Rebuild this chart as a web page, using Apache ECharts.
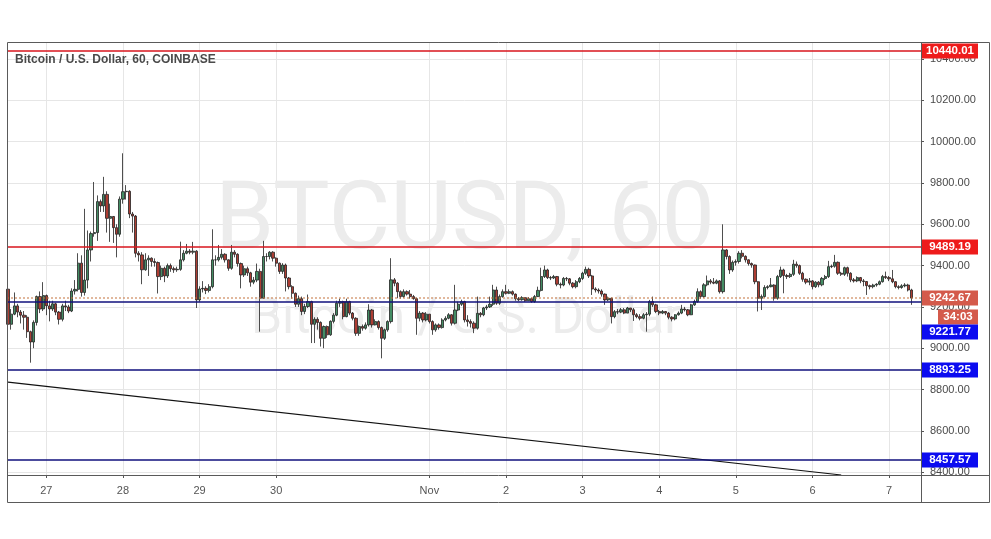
<!DOCTYPE html>
<html><head><meta charset="utf-8">
<script src="https://cdn.jsdelivr.net/npm/echarts@6/dist/echarts.min.js"></script>
<style>html,body{margin:0;padding:0;background:#fff}#c{width:991px;height:539px}</style>
</head><body><div id="c"></div>
<script>
// ---------- data ----------
const startTime = Date.UTC(2019, 9, 26, 12);   // first hourly bar (UTC)
const firstOpen = 9286;
const closes = [
 9116,9165,9205,9175,9160,9150,9080,9030,9125,9250,9190,9255,
 9205,9190,9215,9175,9140,9205,9200,9180,9277,9285,9412,9270,9330,9476,9555,9560,9710,9689,9745,9629,9638,9584,9552,9722,
 9758,9760,9650,9640,9460,9452,9380,9428,9436,9420,9415,9347,9387,9350,9400,9385,9380,9382,9428,9460,9470,9465,9470,9234,
 9287,9290,9280,9298,9428,9428,9440,9455,9428,9387,9465,9455,9410,9355,9385,9365,9320,9330,9372,9242,9444,9444,9465,9436,
 9412,9372,9403,9340,9298,9266,9213,9240,9178,9202,9226,9116,9140,9125,9048,9105,9065,9130,9160,9218,9226,9153,9226,9170,
 9145,9072,9105,9097,9113,9185,9113,9129,9100,9048,9089,9129,9331,9315,9274,9250,9274,9262,9250,9240,9145,9170,9137,9165,
 9129,9089,9113,9100,9137,9145,9162,9121,9185,9213,9226,9137,9129,9121,9097,9169,9162,9195,9200,9213,9282,9218,9250,9274,
 9266,9274,9262,9240,9235,9245,9230,9240,9226,9250,9280,9347,9379,9342,9340,9347,9310,9306,9338,9336,9315,9298,9322,9338,
 9363,9382,9350,9287,9282,9277,9262,9234,9242,9153,9177,9175,9186,9170,9195,9186,9162,9153,9145,9162,9165,9226,9210,9178,
 9170,9178,9170,9150,9142,9162,9170,9190,9186,9162,9210,9226,9274,9250,9307,9326,9320,9315,9326,9274,9476,9444,9379,9416,
 9420,9460,9445,9428,9410,9403,9322,9242,9250,9294,9298,9306,9242,9347,9379,9352,9347,9358,9407,9400,9363,9334,9320,9326,
 9298,9320,9307,9338,9347,9395,9397,9416,9363,9358,9390,9363,9331,9326,9342,9326,9323,9303,9298,9306,9310,9322,9347,9342,
 9336,9322,9298,9294,9302,9306,9282,9242.67
];
const highs = [
 9420,9190,9270,9215,9185,9180,9160,9085,9135,9255,9275,9320,
 9260,9230,9230,9220,9180,9215,9230,9210,9290,9330,9460,9450,9675,9570,9565,9805,9740,9720,9830,9760,9700,9640,9600,9735,
 9944,9790,9765,9660,9645,9470,9465,9460,9450,9440,9435,9420,9400,9395,9410,9410,9395,9395,9516,9475,9505,9480,9515,9475,
 9300,9325,9300,9310,9576,9450,9500,9480,9460,9430,9500,9475,9460,9415,9400,9395,9370,9345,9410,9385,9520,9460,9470,9470,
 9440,9415,9412,9410,9345,9305,9270,9255,9250,9215,9260,9230,9150,9150,9130,9110,9110,9135,9170,9230,9240,9230,9240,9230,
 9175,9150,9110,9115,9125,9213,9190,9140,9135,9105,9095,9135,9436,9340,9320,9280,9285,9280,9282,9258,9245,9180,9175,9175,
 9165,9135,9120,9120,9145,9155,9170,9165,9307,9225,9235,9230,9160,9140,9130,9250,9175,9200,9210,9250,9307,9298,9260,9285,
 9307,9285,9280,9265,9248,9252,9248,9248,9245,9258,9298,9390,9400,9385,9350,9355,9350,9318,9345,9345,9340,9320,9330,9345,
 9370,9395,9390,9355,9295,9290,9285,9265,9250,9245,9185,9190,9195,9195,9200,9195,9195,9170,9165,9170,9175,9234,9250,9215,
 9185,9185,9180,9175,9155,9165,9178,9210,9200,9190,9215,9235,9290,9280,9315,9352,9335,9340,9333,9330,9600,9480,9450,9425,
 9430,9470,9475,9450,9430,9415,9405,9325,9260,9305,9305,9340,9310,9355,9395,9385,9360,9365,9428,9420,9405,9370,9338,9340,
 9330,9325,9325,9345,9355,9423,9405,9452,9420,9370,9395,9395,9368,9340,9348,9345,9335,9325,9308,9312,9315,9328,9355,9371,
 9350,9379,9325,9305,9310,9315,9312,9288
];
const lows = [
 9075,9090,9160,9150,9120,9090,9050,8930,9000,9110,9170,9180,
 9160,9130,9180,9160,9115,9130,9180,9170,9175,9260,9275,9250,9255,9290,9420,9540,9520,9660,9660,9560,9515,9510,9440,9540,
 9700,9720,9630,9560,9440,9420,9310,9375,9350,9395,9395,9265,9330,9320,9340,9370,9365,9370,9375,9420,9455,9455,9455,9195,
 9225,9270,9262,9270,9290,9400,9420,9430,9415,9375,9380,9440,9395,9290,9345,9350,9298,9310,9320,9080,9240,9420,9430,9420,
 9395,9360,9360,9275,9285,9240,9200,9200,9160,9165,9195,9025,9025,9090,9008,9000,9050,9060,9120,9155,9200,9140,9150,9160,
 9135,9060,9060,9085,9090,9105,9100,9110,9090,8951,9040,9080,9120,9300,9242,9240,9245,9255,9240,9235,9065,9130,9125,9130,
 9120,9065,9080,9090,9095,9130,9140,9110,9115,9180,9205,9125,9105,9100,9073,9090,9150,9155,9185,9195,9205,9210,9210,9245,
 9260,9262,9255,9230,9228,9230,9225,9230,9220,9220,9248,9275,9340,9335,9330,9335,9300,9290,9300,9325,9305,9290,9290,9315,
 9330,9355,9340,9258,9270,9265,9250,9210,9228,9120,9145,9165,9170,9165,9170,9175,9132,9145,9135,9140,9080,9155,9200,9170,
 9160,9165,9160,9140,9130,9135,9158,9165,9178,9155,9160,9205,9220,9240,9245,9300,9310,9310,9310,9265,9265,9430,9360,9370,
 9400,9410,9435,9415,9400,9390,9310,9178,9185,9245,9285,9295,9230,9235,9340,9266,9335,9340,9350,9390,9355,9322,9310,9305,
 9285,9292,9295,9300,9330,9340,9388,9390,9355,9350,9350,9347,9320,9318,9320,9315,9300,9258,9285,9290,9298,9305,9318,9335,
 9325,9315,9290,9285,9288,9295,9275,9210
];
const xTickDates  = ['2019-10-27','2019-10-28','2019-10-29','2019-10-30','2019-11-01','2019-11-02','2019-11-03','2019-11-04','2019-11-05','2019-11-06','2019-11-07'];
const xTickLabels = ['27','28','29','30','Nov','2','3','4','5','6','7'];
const yTicks = [8400,8600,8800,9000,9200,9400,9600,9800,10000,10200,10400];
const redLevels  = [10440.01, 9489.19];
const blueLevels = [9221.77, 8893.25, 8457.57];
const lastPrice = 9242.67;
const countdown = '34:03';
const trendLine = [[0, 8836], [261, 8386]];   // [bar index, price]
const titleText = 'Bitcoin / U.S. Dollar, 60, COINBASE';
const wmMain = 'BTCUSD, 60';
const wmSub = 'Bitcoin / U.S. Dollar';
const emptySlotsRight = 3;

// ---------- build ----------
const nSlots = closes.length + emptySlotsRight;
const cats = [];
for (let i = 0; i < nSlots; i++) cats.push(new Date(startTime + i * 3600000).toISOString().slice(0, 16));
const tickIdx = {};
cats.forEach((c, i) => { const k = xTickDates.indexOf(c.slice(0, 10)); if (k >= 0 && c.slice(11) === '00:00') tickIdx[i] = xTickLabels[k]; });
const showTick = (i) => tickIdx[i] !== undefined;

const ohlc = closes.map((c, i) => {
  const o = i === 0 ? firstOpen : closes[i - 1];
  return [o, c, Math.min(lows[i], o, c), Math.max(highs[i], o, c)];
});

const chart = echarts.init(document.getElementById('c'), null, {renderer: 'canvas'});
const font = 'Liberation Sans, Arial, sans-serif';

chart.setOption({
  animation: false,
  backgroundColor: '#ffffff',
  grid: {left: 8, right: 70, top: 42, bottom: 64, containLabel: false},
  xAxis: {
    type: 'category', data: cats, boundaryGap: false,
    axisLine: {show: false},
    axisTick: {show: true, interval: showTick, length: 3, lineStyle: {color: '#555'}},
    axisLabel: {interval: showTick, formatter: (v, i) => tickIdx[i] || '', color: '#555', fontSize: 11, fontFamily: font, margin: 10},
    splitLine: {show: true, interval: showTick, lineStyle: {color: '#e6e6e6', width: 1}}
  },
  yAxis: {
    type: 'value', position: 'right', min: 8386, max: 10483, scale: true,
    axisLine: {show: false},
    axisTick: {show: true, length: 3, customValues: yTicks, lineStyle: {color: '#555'}},
    axisLabel: {customValues: yTicks, formatter: v => v.toFixed(2), color: '#4a4a4a', fontSize: 11, fontFamily: font, margin: 9},
    splitLine: {show: true, lineStyle: {color: '#e6e6e6', width: 1}}
  },
  series: [{
    type: 'candlestick', data: ohlc, barWidth: 2.7,
    itemStyle: {color: '#448d64', color0: '#ad3d33', borderColor: '#222', borderColor0: '#222', borderWidth: 0.8},
    markLine: {
      silent: true, symbol: ['none', 'none'], label: {show: false}, animation: false,
      lineStyle: {color: '#111', width: 1.2, type: 'solid'},
      data: [[{coord: trendLine[0]}, {coord: trendLine[1]}]]
    },
    z: 3
  }]
});

function drawOverlay() {
  const py = v => chart.convertToPixel({yAxisIndex: 0}, v);
  const xL = chart.convertToPixel({xAxisIndex: 0}, 0);
  const xR = 921;
  const g = [];
  // watermark
  g.push({type: 'text', z: 0, silent: true, style: {text: wmMain, x: 465, y: 224, align: 'center', verticalAlign: 'middle', font: '95px Roboto', fill: '#ececec'}});
  g.push({type: 'text', z: 0, silent: true, style: {text: wmSub, x: 466, y: 320, align: 'center', verticalAlign: 'middle', font: '50px Roboto', fill: '#ececec'}});
  // horizontal levels
  const hline = (v, color, w, dash) => {
    const y = Math.round(py(v));
    g.push({type: 'line', z: 40, silent: true, shape: {x1: xL - 1, y1: y, x2: xR, y2: y}, style: {stroke: color, lineWidth: w, lineDash: dash || null}});
  };
  redLevels.forEach(v => hline(v, '#d8141c', 1.6));
  blueLevels.forEach(v => hline(v, '#10107c', 1.5));
  hline(lastPrice + 0.0, '#c4733c', 1, [2, 2]);
  // title
  g.push({type: 'text', z: 50, style: {text: titleText, x: 15, y: 60, verticalAlign: 'middle', font: 'bold 12px ' + font, fill: '#4a4a4a'}});
  // frame
  const fc = '#5a5a5a';
  [[7.5, 42.5, 989.5, 42.5], [7.5, 42.5, 7.5, 502.5], [989.5, 42.5, 989.5, 502.5], [7.5, 502.5, 989.5, 502.5],
   [921.5, 42.5, 921.5, 502.5], [7.5, 475.5, 989.5, 475.5]].forEach(l =>
    g.push({type: 'line', z: 60, silent: true, shape: {x1: l[0], y1: l[1], x2: l[2], y2: l[3]}, style: {stroke: fc, lineWidth: 1}}));
  // price tags
  const tag = (yc, text, color, x, w) => {
    g.push({type: 'rect', z: 70, shape: {x: x, y: Math.round(yc) - 7.5, width: w, height: 15}, style: {fill: color}});
    g.push({type: 'text', z: 71, style: {text: text, x: x + w / 2, y: Math.round(yc), align: 'center', verticalAlign: 'middle', font: 'bold 11.5px ' + font, fill: '#fff'}});
  };
  redLevels.forEach(v => tag(py(v), v.toFixed(2), '#ee1b1b', 922, 56));
  const lp = py(lastPrice);
  tag(lp, lastPrice.toFixed(2), '#d45a4b', 922, 56);
  tag(lp + 19, countdown, '#d45a4b', 938, 40);
  blueLevels.forEach(v => {
    let y = py(v);
    if (Math.abs(y - lp) < 32) y = lp + 34;
    tag(y, v.toFixed(2), '#0b0bf0', 922, 56);
  });
  chart.setOption({graphic: {elements: g}});
}
drawOverlay();
</script></body></html>
